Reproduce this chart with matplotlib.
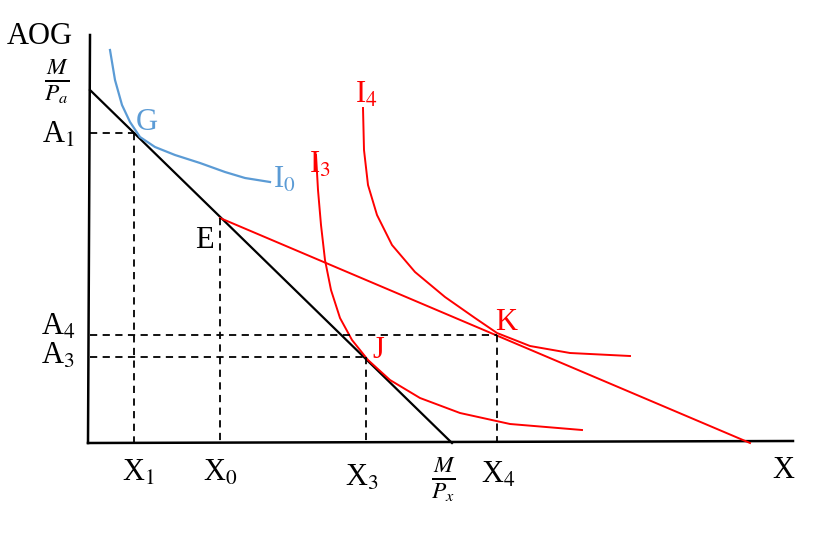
import matplotlib
matplotlib.use("Agg")
import matplotlib.pyplot as plt

plt.rcParams['font.family'] = 'Liberation Serif'
plt.rcParams['mathtext.fontset'] = 'stix'

# pixel-space data
budget_x = [90, 452]; budget_y = [90, 443]
rot_x = [220, 750]; rot_y = [218, 443]
i0_x = [110,115,122,130,140,155,175,200,225,245,270]
i0_y = [50,80,105,122,137,147,155,163,172,178,182]
i3_x = [316,318,321,325,331,340,352,368,390,420,460,510,582]
i3_y = [155,190,225,260,290,318,340,360,380,398,413,424,430]
i4_x = [363,364,368,377,392,415,445,475,497,530,570,630]
i4_y = [108,150,185,215,245,272,297,318,333,346,353,356]
dashes = [((90,137),(133,133)), ((134,134),(133,443)), ((220,220),(218,443)),
          ((90,497),(335,335)), ((497,497),(335,443)), ((90,368),(357,357)), ((366,366),(357,443))]

fig = plt.figure(figsize=(8.32,5.33), dpi=100)
ax = fig.add_axes([0,0,1,1])
ax.set_xlim(0,832); ax.set_ylim(533,0); ax.axis('off')

ax.plot([90,88],[35,443], color='black', lw=1.8)
ax.plot([88,793],[443,441], color='black', lw=1.8)
ax.plot(budget_x, budget_y, color='black', lw=1.6)
ax.plot(rot_x, rot_y, color='red', lw=1.4)
ax.plot(i0_x, i0_y, color='#5b9bd5', lw=1.6)
ax.plot(i3_x, i3_y, color='red', lw=1.4)
ax.plot(i4_x, i4_y, color='red', lw=1.4)
for xs, ys in dashes:
    ax.plot(xs, ys, color='black', lw=1.3, ls=(0,(4,3)))

fs = 22
def t(x, y, s, c='black', size=fs):
    ax.text(x, y, s, color=c, fontsize=size, ha='center', va='center')
t(40, 36, 'AOG')
t(57, 82, r'$\frac{M}{P_a}$', size=24)
t(58, 135, r'A$_1$')
t(147, 122, 'G', '#5b9bd5')
t(284, 180, r'I$_0$', '#5b9bd5')
t(204, 240, 'E')
t(320, 165, r'I$_3$', 'red')
t(366, 95, r'I$_4$', 'red')
t(506, 322, 'K', 'red')
t(378, 350, 'J', 'red')
t(58, 327, r'A$_4$')
t(58, 356, r'A$_3$')
t(138, 473, r'X$_1$')
t(220, 473, r'X$_0$')
t(362, 478, r'X$_3$')
t(443, 480, r'$\frac{M}{P_x}$', size=24)
t(498, 475, r'X$_4$')
t(783, 470, 'X')

fig.savefig('out.png', dpi=100)
